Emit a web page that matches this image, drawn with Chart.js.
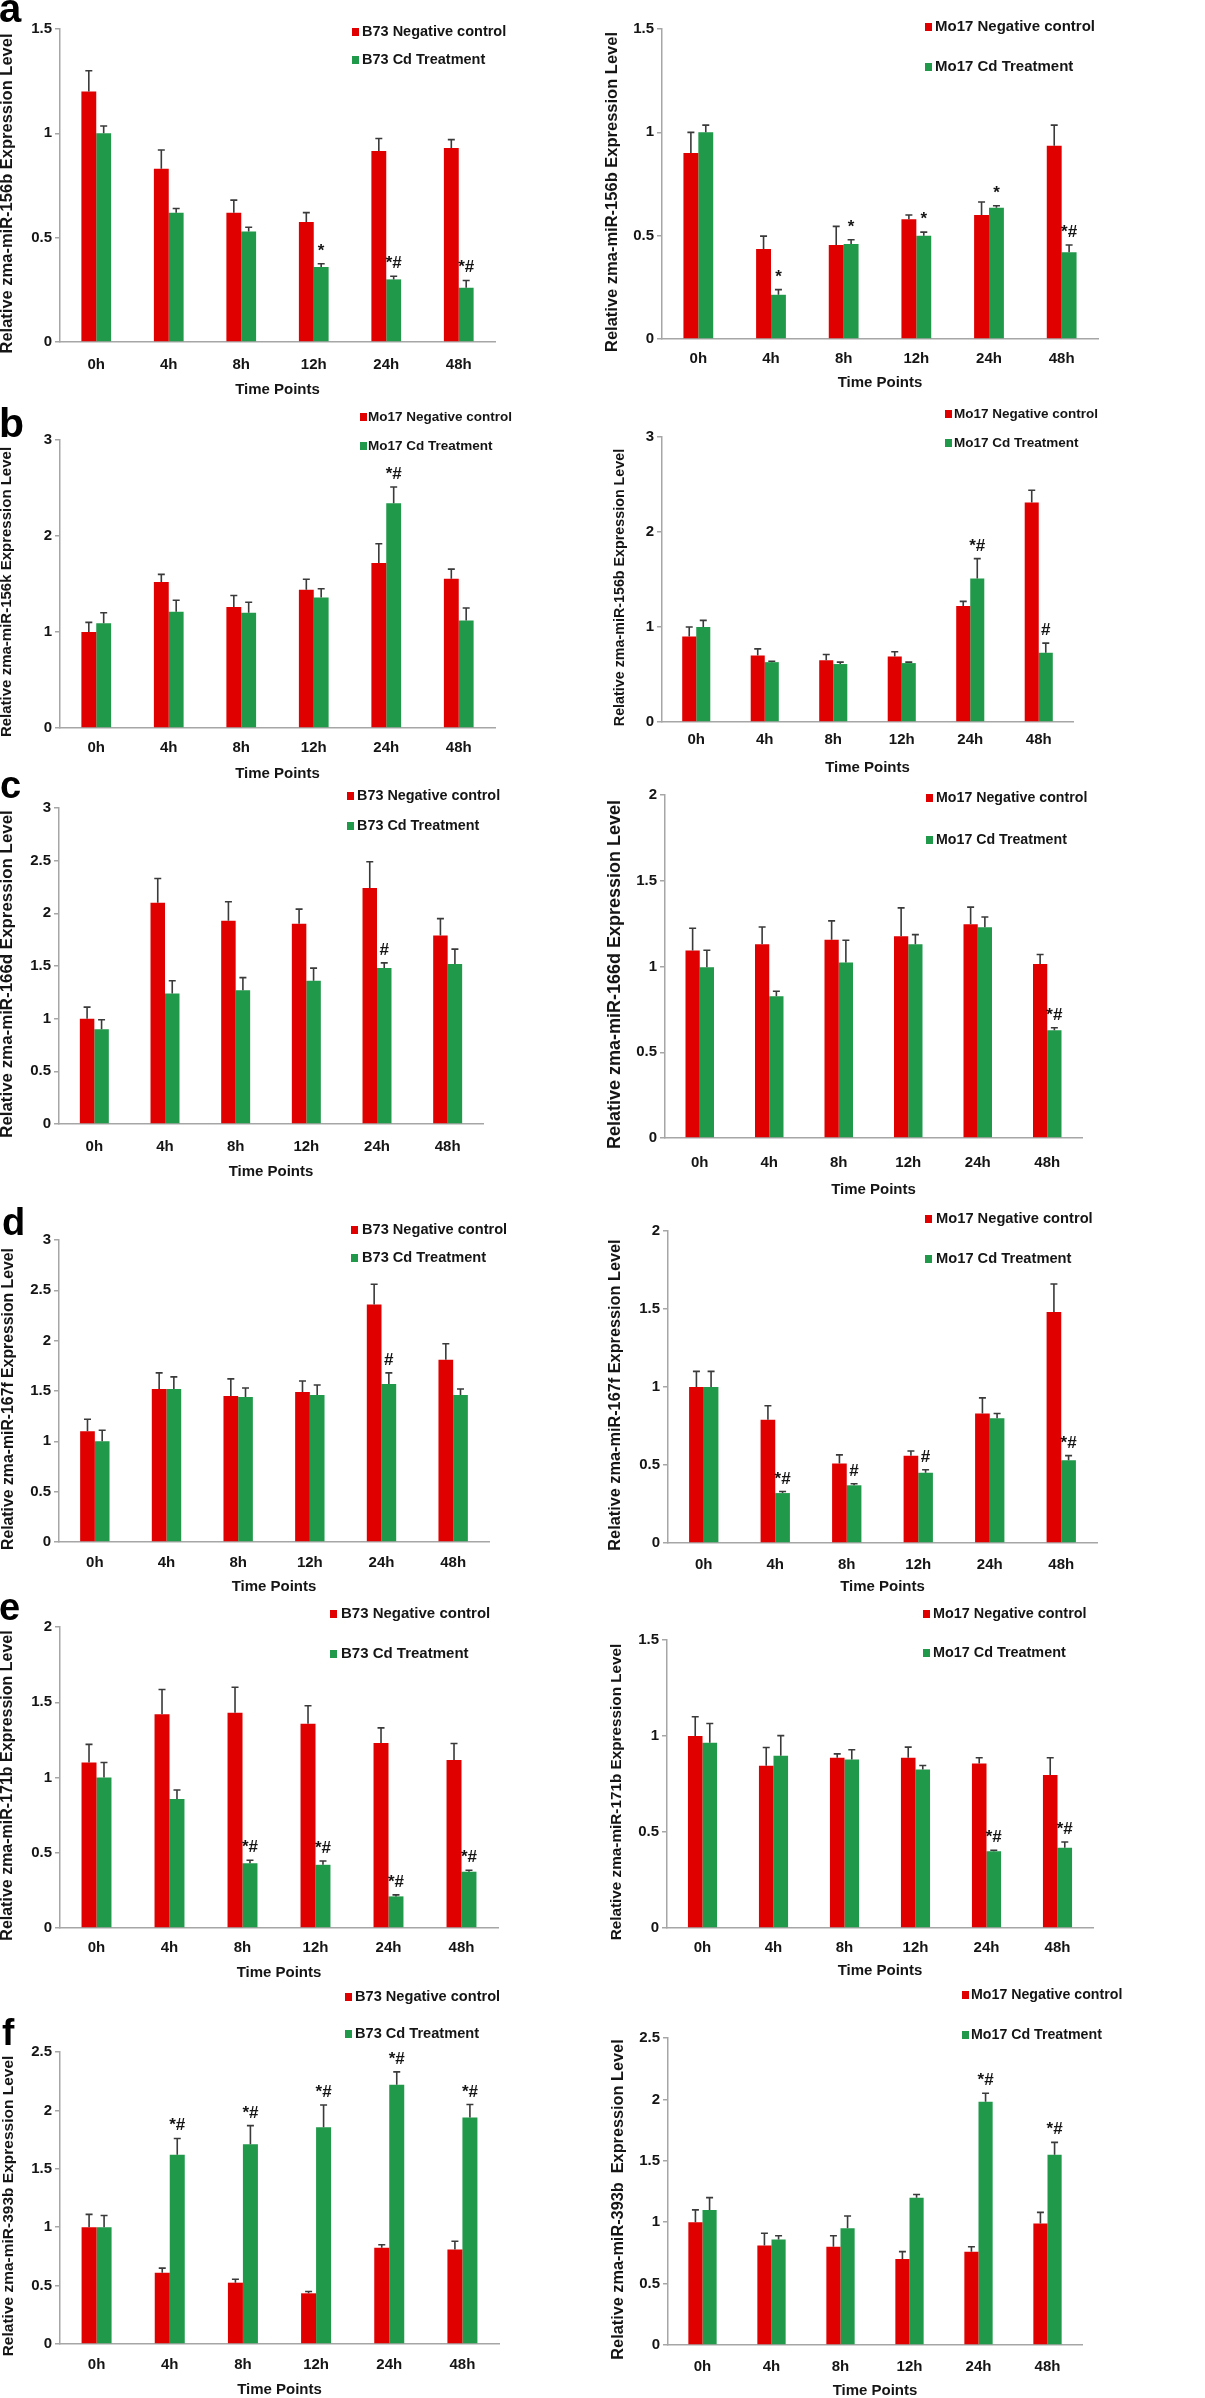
<!DOCTYPE html>
<html>
<head>
<meta charset="utf-8">
<script src="https://cdn.jsdelivr.net/npm/chart.js@4.4.1/dist/chart.umd.min.js"></script>
<style>
  html, body { margin: 0; padding: 0; background: #fff; }
  #page { position: relative; width: 1205px; height: 2398px; overflow: hidden; background: #fff; }
  #page canvas { position: absolute; }
</style>
</head>
<body>
<div id="page"></div>
<script>
// ---- data ----
const timePoints = ['0h', '4h', '8h', '12h', '24h', '48h'];

// a, zma-miR-156b
const aLeftCtrl = [1.2, 0.83, 0.62, 0.575, 0.915, 0.93];
const aLeftCtrlErr = [0.1, 0.09, 0.06, 0.045, 0.06, 0.04];
const aLeftCd = [1.0, 0.62, 0.53, 0.36, 0.3, 0.26];
const aLeftCdErr = [0.035, 0.02, 0.02, 0.015, 0.015, 0.035];
const aLeftMarks = ['', '', '', '*', '*#', '*#'];
const aLeftTicks = [0, 0.5, 1, 1.5];

const aRightCtrl = [0.9, 0.435, 0.455, 0.58, 0.6, 0.935];
const aRightCtrlErr = [0.1, 0.063, 0.09, 0.02, 0.063, 0.1];
const aRightCd = [1.0, 0.214, 0.46, 0.5, 0.635, 0.42];
const aRightCdErr = [0.035, 0.025, 0.02, 0.017, 0.01, 0.035];
const aRightMarks = ['', '*', '*', '*', '*', '*#'];
const aRightTicks = [0, 0.5, 1, 1.5];

// b, zma-miR-156k / 156b
const bLeftCtrl = [1.0, 1.52, 1.26, 1.44, 1.72, 1.555];
const bLeftCtrlErr = [0.1, 0.08, 0.12, 0.11, 0.2, 0.1];
const bLeftCd = [1.09, 1.21, 1.2, 1.36, 2.34, 1.12];
const bLeftCdErr = [0.11, 0.12, 0.11, 0.09, 0.17, 0.13];
const bLeftMarks = ['', '', '', '', '*#', ''];
const bLeftTicks = [0, 1, 2, 3];

const bRightCtrl = [0.9, 0.7, 0.65, 0.69, 1.22, 2.31];
const bRightCtrlErr = [0.1, 0.07, 0.06, 0.05, 0.05, 0.13];
const bRightCd = [1.0, 0.63, 0.61, 0.62, 1.51, 0.73];
const bRightCdErr = [0.07, 0.01, 0.02, 0.01, 0.21, 0.1];
const bRightMarks = ['', '', '', '', '*#', '#'];
const bRightTicks = [0, 1, 2, 3];

// c, zma-miR-166d
const cLeftCtrl = [1.0, 2.1, 1.93, 1.9, 2.24, 1.79];
const cLeftCtrlErr = [0.11, 0.23, 0.18, 0.14, 0.25, 0.16];
const cLeftCd = [0.9, 1.24, 1.27, 1.36, 1.48, 1.52];
const cLeftCdErr = [0.09, 0.12, 0.12, 0.12, 0.05, 0.14];
const cLeftMarks = ['', '', '', '', '#', ''];
const cLeftTicks = [0, 0.5, 1, 1.5, 2, 2.5, 3];

const cRightCtrl = [1.093, 1.13, 1.156, 1.177, 1.246, 1.014];
const cRightCtrlErr = [0.13, 0.1, 0.11, 0.165, 0.1, 0.056];
const cRightCd = [0.995, 0.826, 1.023, 1.13, 1.229, 0.628];
const cRightCdErr = [0.1, 0.03, 0.13, 0.056, 0.06, 0.015];
const cRightMarks = ['', '', '', '', '', '*#'];
const cRightTicks = [0, 0.5, 1, 1.5, 2];

// d, zma-miR-167f
const dLeftCtrl = [1.1, 1.52, 1.45, 1.49, 2.36, 1.81];
const dLeftCtrlErr = [0.12, 0.16, 0.17, 0.11, 0.2, 0.16];
const dLeftCd = [1.0, 1.52, 1.44, 1.46, 1.57, 1.46];
const dLeftCdErr = [0.11, 0.12, 0.09, 0.1, 0.11, 0.06];
const dLeftMarks = ['', '', '', '', '#', ''];
const dLeftTicks = [0, 0.5, 1, 1.5, 2, 2.5, 3];

const dRightCtrl = [1.0, 0.79, 0.51, 0.56, 0.83, 1.48];
const dRightCtrlErr = [0.1, 0.09, 0.055, 0.03, 0.1, 0.18];
const dRightCd = [1.0, 0.32, 0.37, 0.45, 0.8, 0.53];
const dRightCdErr = [0.1, 0.01, 0.01, 0.02, 0.03, 0.03];
const dRightMarks = ['', '*#', '#', '#', '', '*#'];
const dRightTicks = [0, 0.5, 1, 1.5, 2];

// e, zma-miR-171b
const eLeftCtrl = [1.1, 1.42, 1.43, 1.357, 1.23, 1.116];
const eLeftCtrlErr = [0.12, 0.165, 0.17, 0.12, 0.1, 0.11];
const eLeftCd = [1.0, 0.857, 0.43, 0.42, 0.21, 0.374];
const eLeftCdErr = [0.1, 0.06, 0.02, 0.025, 0.01, 0.01];
const eLeftMarks = ['', '', '*#', '*#', '*#', '*#'];
const eLeftTicks = [0, 0.5, 1, 1.5, 2];

const eRightCtrl = [1.0, 0.845, 0.887, 0.887, 0.857, 0.797];
const eRightCtrlErr = [0.1, 0.095, 0.02, 0.055, 0.03, 0.09];
const eRightCd = [0.965, 0.897, 0.878, 0.826, 0.4, 0.418];
const eRightCdErr = [0.1, 0.105, 0.05, 0.02, 0.005, 0.03];
const eRightMarks = ['', '', '', '', '*#', '*#'];
const eRightTicks = [0, 0.5, 1, 1.5];

// f, zma-miR-393b
const fLeftCtrl = [1.0, 0.61, 0.525, 0.434, 0.825, 0.81];
const fLeftCtrlErr = [0.11, 0.04, 0.03, 0.015, 0.025, 0.07];
const fLeftCd = [1.0, 1.62, 1.71, 1.856, 2.22, 1.94];
const fLeftCdErr = [0.1, 0.14, 0.16, 0.19, 0.11, 0.11];
const fLeftMarks = ['', '*#', '*#', '*#', '*#', '*#'];
const fLeftTicks = [0, 0.5, 1, 1.5, 2, 2.5];

const fRightCtrl = [1.0, 0.81, 0.8, 0.7, 0.76, 0.99];
const fRightCtrlErr = [0.1, 0.1, 0.09, 0.06, 0.04, 0.09];
const fRightCd = [1.1, 0.86, 0.95, 1.2, 1.98, 1.55];
const fRightCdErr = [0.1, 0.03, 0.1, 0.025, 0.07, 0.1];
const fRightMarks = ['', '', '', '', '*#', '*#'];
const fRightTicks = [0, 0.5, 1, 1.5, 2, 2.5];

// ---- look ----
const FONT = '"Liberation Sans", Arial, Helvetica, sans-serif';
const RED = '#E00000';
const GREEN = '#20994A';
const AXIS = '#A6A6A6';
const INK = '#151515';

Chart.defaults.font.family = FONT;
Chart.defaults.font.weight = 'bold';
Chart.defaults.color = INK;

// panel layout in page pixels: L/R = x axis ends, T = top tick, B = zero line
const panels = [
  { line: 'B73', title: 'Relative zma-miR-156b Expression Level', ctrl: aLeftCtrl, ctrlErr: aLeftCtrlErr, cd: aLeftCd, cdErr: aLeftCdErr, marks: aLeftMarks, ticks: aLeftTicks,
    cx: 0, L: 60, R: 495, T: 29, B: 342, tickPad: 14, tp: 390, titleX: 7.5, titleSize: 16.5,
    legend: { sq: 352, tx: 362, y: [32, 60], size: 14.5 }, letter: { t: 'a', x: -1, base: 22, size: 40 } },
  { line: 'Mo17', title: 'Relative zma-miR-156b Expression Level', ctrl: aRightCtrl, ctrlErr: aRightCtrlErr, cd: aRightCd, cdErr: aRightCdErr, marks: aRightMarks, ticks: aRightTicks,
    cx: 600, L: 662, R: 1098, T: 29, B: 339, tickPad: 11, tp: 383, titleX: 612, titleSize: 16.5,
    legend: { sq: 925, tx: 935, y: [27, 67], size: 15 } },
  { line: 'Mo17', title: 'Relative zma-miR-156k Expression Level', ctrl: bLeftCtrl, ctrlErr: bLeftCtrlErr, cd: bLeftCd, cdErr: bLeftCdErr, marks: bLeftMarks, ticks: bLeftTicks,
    cx: 0, L: 60, R: 495, T: 440, B: 728, tickPad: 11, tp: 774, titleX: 7, titleSize: 15,
    legend: { sq: 360, tx: 368, y: [417, 446], size: 13.5 }, letter: { t: 'b', x: -1, base: 437, size: 41 } },
  { line: 'Mo17', title: 'Relative zma-miR-156b Expression Level', ctrl: bRightCtrl, ctrlErr: bRightCtrlErr, cd: bRightCd, cdErr: bRightCdErr, marks: bRightMarks, ticks: bRightTicks,
    cx: 600, L: 662, R: 1073, T: 437, B: 722, tickPad: 9, tp: 768, titleX: 620, titleSize: 14.3,
    legend: { sq: 945, tx: 954, y: [414, 443], size: 13.5 } },
  { line: 'B73', title: 'Relative zma-miR-166d Expression Level', ctrl: cLeftCtrl, ctrlErr: cLeftCtrlErr, cd: cLeftCd, cdErr: cLeftCdErr, marks: cLeftMarks, ticks: cLeftTicks,
    cx: 0, L: 59, R: 483, T: 808, B: 1124, tickPad: 14, tp: 1172, titleX: 7, titleSize: 16.9,
    legend: { sq: 347, tx: 357, y: [796, 826], size: 14.4 }, letter: { t: 'c', x: 0, base: 798, size: 38 } },
  { line: 'Mo17', title: 'Relative zma-miR-166d Expression Level', ctrl: cRightCtrl, ctrlErr: cRightCtrlErr, cd: cRightCd, cdErr: cRightCdErr, marks: cRightMarks, ticks: cRightTicks,
    cx: 600, L: 665, R: 1082, T: 795, B: 1138, tickPad: 16, tp: 1190, titleX: 615, titleSize: 18,
    legend: { sq: 926, tx: 936, y: [798, 840], size: 14.2 } },
  { line: 'B73', title: 'Relative zma-miR-167f Expression Level', ctrl: dLeftCtrl, ctrlErr: dLeftCtrlErr, cd: dLeftCd, cdErr: dLeftCdErr, marks: dLeftMarks, ticks: dLeftTicks,
    cx: 0, L: 59, R: 489, T: 1240, B: 1542, tickPad: 12, tp: 1587, titleX: 9, titleSize: 15.8,
    legend: { sq: 351, tx: 362, y: [1230, 1258], size: 14.6 }, letter: { t: 'd', x: 2, base: 1235, size: 38 } },
  { line: 'Mo17', title: 'Relative zma-miR-167f Expression Level', ctrl: dRightCtrl, ctrlErr: dRightCtrlErr, cd: dRightCd, cdErr: dRightCdErr, marks: dRightMarks, ticks: dRightTicks,
    cx: 600, L: 668, R: 1097, T: 1231, B: 1543, tickPad: 13, tp: 1587, titleX: 616, titleSize: 16.3,
    legend: { sq: 925, tx: 936, y: [1219, 1259], size: 14.7 } },
  { line: 'B73', title: 'Relative zma-miR-171b Expression Level', ctrl: eLeftCtrl, ctrlErr: eLeftCtrlErr, cd: eLeftCd, cdErr: eLeftCdErr, marks: eLeftMarks, ticks: eLeftTicks,
    cx: 0, L: 60, R: 498, T: 1627, B: 1928, tickPad: 11, tp: 1973, titleX: 8, titleSize: 16,
    legend: { sq: 330, tx: 341, y: [1614, 1654], size: 15 }, letter: { t: 'e', x: -1, base: 1620, size: 38 } },
  { line: 'Mo17', title: 'Relative zma-miR-171b Expression Level', ctrl: eRightCtrl, ctrlErr: eRightCtrlErr, cd: eRightCd, cdErr: eRightCdErr, marks: eRightMarks, ticks: eRightTicks,
    cx: 600, L: 667, R: 1093, T: 1640, B: 1928, tickPad: 11, tp: 1971, titleX: 617, titleSize: 15.3,
    legend: { sq: 923, tx: 933, y: [1614, 1653], size: 14.4 } },
  { line: 'B73', title: 'Relative zma-miR-393b Expression Level', ctrl: fLeftCtrl, ctrlErr: fLeftCtrlErr, cd: fLeftCd, cdErr: fLeftCdErr, marks: fLeftMarks, ticks: fLeftTicks,
    cx: 0, L: 60, R: 499, T: 2052, B: 2344, tickPad: 12, tp: 2390, titleX: 9, titleSize: 15.5,
    legend: { sq: 345, tx: 355, y: [1997, 2034], size: 14.6 }, letter: { t: 'f', x: 2, base: 2045, size: 37 } },
  { line: 'Mo17', title: 'Relative zma-miR-393b  Expression Level', ctrl: fRightCtrl, ctrlErr: fRightCtrlErr, cd: fRightCd, cdErr: fRightCdErr, marks: fRightMarks, ticks: fRightTicks,
    cx: 600, L: 668, R: 1082, T: 2038, B: 2345, tickPad: 13, tp: 2391, titleX: 619, titleSize: 16.3,
    legend: { sq: 962, tx: 971, y: [1995, 2035], size: 14.2 } }
];

// error bars, significance marks, legend, y title and panel letter
const decorate = (p, cy) => ({
  id: 'decorate',
  afterDatasetsDraw(chart) {
    const ctx = chart.ctx;
    const y = chart.scales.y;
    ctx.save();

    ctx.strokeStyle = '#3a3a3a';
    ctx.lineWidth = 1.6;
    chart.data.datasets.forEach((ds, i) => {
      chart.getDatasetMeta(i).data.forEach((bar, j) => {
        const top = y.getPixelForValue(ds.data[j] + ds.errors[j]);
        ctx.beginPath();
        ctx.moveTo(bar.x, bar.y);
        ctx.lineTo(bar.x, top);
        ctx.moveTo(bar.x - 3.5, top);
        ctx.lineTo(bar.x + 3.5, top);
        ctx.stroke();
      });
    });

    ctx.fillStyle = INK;
    ctx.font = 'bold 17px ' + FONT;
    ctx.textAlign = 'center';
    ctx.textBaseline = 'alphabetic';
    const cdMeta = chart.getDatasetMeta(1);
    p.marks.forEach((m, j) => {
      if (!m) return;
      const top = y.getPixelForValue(p.cd[j] + p.cdErr[j]);
      ctx.fillText(m, cdMeta.data[j].x, top - 8);
    });

    ctx.textAlign = 'left';
    ctx.textBaseline = 'middle';
    ctx.font = 'bold ' + p.legend.size + 'px ' + FONT;
    chart.data.datasets.forEach((ds, i) => {
      const ly = p.legend.y[i] - cy;
      ctx.fillStyle = ds.backgroundColor;
      ctx.fillRect(p.legend.sq - p.cx, ly - 4, 7, 8);
      ctx.fillStyle = INK;
      ctx.fillText(ds.label, p.legend.tx - p.cx, ly);
    });

    ctx.save();
    ctx.translate(p.titleX - p.cx, (p.T + p.B) / 2 + 8 - cy);
    ctx.rotate(-Math.PI / 2);
    ctx.textAlign = 'center';
    ctx.font = 'bold ' + p.titleSize + 'px ' + FONT;
    ctx.fillText(p.title, 0, 0);
    ctx.restore();

    if (p.letter) {
      ctx.textBaseline = 'alphabetic';
      ctx.fillStyle = '#000';
      ctx.font = 'bold ' + p.letter.size + 'px ' + FONT;
      ctx.fillText(p.letter.t, p.letter.x - p.cx, p.letter.base - cy);
    }
    ctx.restore();
  }
});

const page = document.getElementById('page');

panels.forEach(p => {
  const cw = p.cx === 0 ? 600 : 605;
  const cy = Math.max(0, p.T - 85);
  const bottom = p.tp + 10;
  const ch = bottom - cy;

  const canvas = document.createElement('canvas');
  canvas.width = cw;
  canvas.height = ch;
  canvas.style.left = p.cx + 'px';
  canvas.style.top = cy + 'px';
  canvas.style.width = cw + 'px';
  canvas.style.height = ch + 'px';
  page.appendChild(canvas);

  const yWidth = p.L - p.cx;
  const xHeight = bottom - 1 - p.B;
  const yMax = p.ticks[p.ticks.length - 1];

  new Chart(canvas.getContext('2d'), {
    type: 'bar',
    data: {
      labels: timePoints,
      datasets: [
        { label: p.line + ' Negative control', data: p.ctrl, errors: p.ctrlErr, backgroundColor: RED },
        { label: p.line + ' Cd Treatment', data: p.cd, errors: p.cdErr, backgroundColor: GREEN }
      ]
    },
    options: {
      responsive: false,
      animation: false,
      devicePixelRatio: 1,
      layout: { padding: { left: 0, top: p.T - cy, right: p.cx + cw - p.R, bottom: 1 } },
      datasets: { bar: { barPercentage: 1, categoryPercentage: 0.41, borderWidth: 0 } },
      plugins: { legend: { display: false }, tooltip: { enabled: false } },
      scales: {
        x: {
          grid: { display: false, drawTicks: false },
          border: { color: AXIS, width: 1.5 },
          ticks: { font: { size: 15, weight: 'bold' }, padding: p.tickPad, color: INK },
          title: { display: true, text: 'Time Points', font: { size: 15, weight: 'bold', lineHeight: 1.2 }, padding: 0, color: INK },
          afterFit: s => { s.height = xHeight; }
        },
        y: {
          min: 0,
          max: yMax,
          grid: { drawOnChartArea: false, drawTicks: true, tickLength: 5, color: AXIS, lineWidth: 1.5 },
          border: { color: AXIS, width: 1.5 },
          ticks: { font: { size: 15, weight: 'bold' }, padding: 3, color: INK, callback: v => String(+v.toFixed(2)) },
          afterBuildTicks: s => { s.ticks = p.ticks.map(v => ({ value: v })); },
          afterFit: s => { s.width = yWidth; }
        }
      }
    },
    plugins: [decorate(p, cy)]
  });
});
</script>
</body>
</html>
